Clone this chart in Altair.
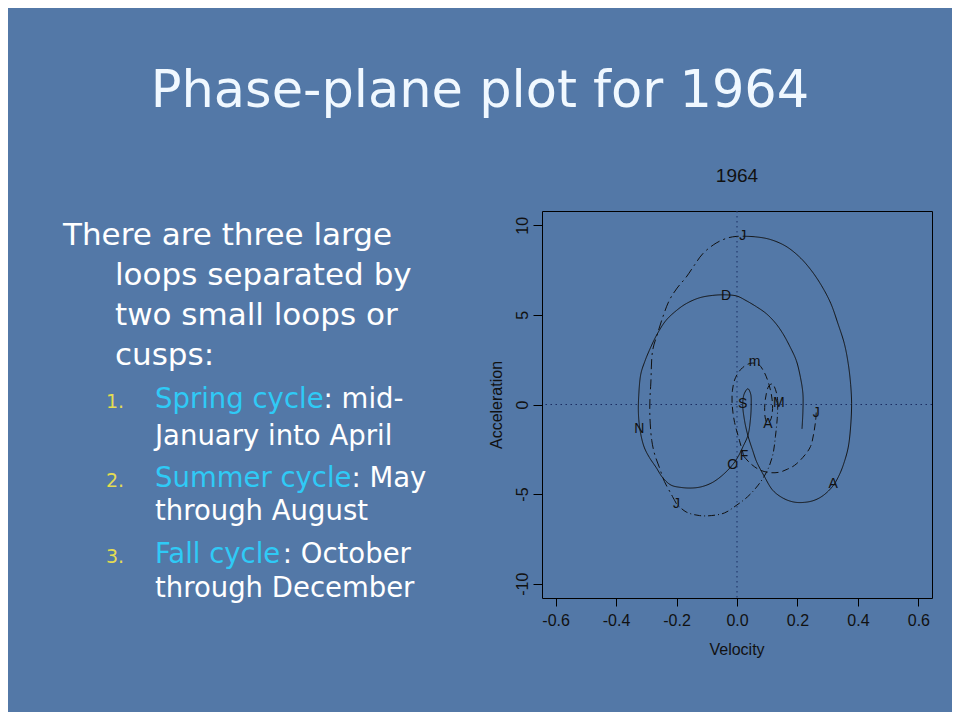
import altair as alt
import pandas as pd

# ---------------- data ----------------
seg_names = ["Jan-Feb", "Feb-May", "May-Jun", "Jun-Jul", "Jul-Dec"]

seg_velocity = [
    [0.262, 0.260, 0.255, 0.243, 0.218, 0.19, 0.168, 0.14, 0.108, 0.075, 0.045, 0.023],
    [0.023, 0.008, -0.008, -0.016, -0.015, -0.005, 0.018, 0.045, 0.07, 0.09, 0.106, 0.116,
     0.117, 0.11, 0.10, 0.093, 0.092, 0.097, 0.106, 0.117, 0.127, 0.133, 0.135],
    [0.135, 0.133, 0.127, 0.119, 0.10, 0.07, 0.035, -0.003, -0.041, -0.085, -0.124, -0.168, -0.2],
    [-0.2, -0.218, -0.24, -0.257, -0.272, -0.282, -0.288, -0.288, -0.285, -0.279, -0.263,
     -0.245, -0.224, -0.198, -0.168, -0.14, -0.113, -0.069, -0.03, -0.003, 0.019],
    [0.019, 0.06, 0.108, 0.16, 0.207, 0.245, 0.279, 0.31, 0.334, 0.355, 0.368, 0.376, 0.379,
     0.376, 0.368, 0.355, 0.34, 0.318, 0.285, 0.255, 0.224, 0.19, 0.155, 0.119, 0.09, 0.065,
     0.052, 0.036, 0.025, 0.019, 0.024, 0.036, 0.045, 0.047, 0.044, 0.036, 0.019, 0.004,
     -0.014, -0.045, -0.08, -0.115, -0.147, -0.185, -0.218, -0.245, -0.268, -0.29, -0.307,
     -0.32, -0.326, -0.325, -0.318, -0.305, -0.29, -0.265, -0.235, -0.2, -0.168, -0.125,
     -0.08, -0.036, 0.0, 0.03, 0.065, 0.097, 0.127, 0.152, 0.176, 0.196, 0.21, 0.218, 0.218,
     0.215],
]
seg_acceleration = [
    [-0.45, -0.9, -1.5, -2.35, -2.95, -3.4, -3.6, -3.78, -3.8, -3.65, -3.3, -2.9],
    [-2.9, -2.0, -1.0, 0.0, 0.8, 1.5, 2.05, 2.3, 2.25, 1.8, 1.1, 0.3,
     -0.4, -0.9, -1.05, -0.7, 0.0, 0.6, 1.05, 1.15, 0.85, 0.45, 0.1],
    [0.1, -0.8, -1.8, -2.76, -3.7, -4.5, -5.15, -5.64, -6.05, -6.2, -6.2, -6.0, -5.55],
    [-5.55, -4.99, -4.3, -3.5, -2.8, -2.0, -0.7, 0.3, 1.2, 3.02, 3.95,
     4.9, 5.81, 6.5, 7.11, 7.8, 8.42, 9.01, 9.3, 9.38, 9.39],
    [9.39, 9.36, 9.22, 8.85, 8.23, 7.5, 6.65, 5.65, 4.51, 3.4, 2.27, 1.1, 0.04,
     -1.2, -2.38, -3.2, -3.87, -4.53, -5.08, -5.35, -5.46, -5.45, -5.25, -4.8, -4.0, -3.2,
     -2.57, -1.73, -0.9, 0.0, 0.6, 0.88, 0.6, 0.0, -0.9, -1.73, -2.38, -2.9,
     -3.35, -3.9, -4.34, -4.58, -4.66, -4.63, -4.5, -4.1, -3.5, -2.95, -2.38,
     -1.5, -0.52, 0.5, 1.71, 2.4, 3.02, 3.9, 4.69, 5.25, 5.63, 5.95,
     6.09, 6.12, 6.05, 5.8, 5.45, 5.07, 4.55, 3.95, 3.2, 2.46, 1.5, 0.6, -0.4,
     -1.36],
]

month_letters = ["J", "F", "m", "A", "M", "J", "J", "A", "S", "O", "N", "D"]
month_velocity = [0.262, 0.023, 0.058, 0.102, 0.138, -0.2, 0.019, 0.318, 0.019, -0.014, -0.323, -0.036]
month_acceleration = [-0.45, -2.9, 2.36, -1.08, 0.1, -5.55, 9.39, -4.45, 0.04, -3.35, -1.36, 6.03]

x_ticks = [-0.6, -0.4, -0.2, 0.0, 0.2, 0.4, 0.6]
y_ticks = [-10, -5, 0, 5, 10]
ref_zero = [0.0]

slide_title = "Phase-plane plot for 1964"
plot_title = "1964"
x_title = "Velocity"
y_title = "Acceleration"
intro_lines = ["There are three large", "loops separated by", "two small loops or", "cusps:"]
item_numbers = ["1.", "2.", "3."]
item_heads = ["Spring cycle", "Summer cycle", "Fall cycle"]
item_tails = [": mid-", ": May", ": October"]
item_second = ["January into April", "through August", "through December"]

# ---------------- layout / style ----------------
OX, OY = 542, 211          # page position of the plot area's top-left corner
PW, PH = 390, 387          # plot area size
BG = "#5378a7"
WHITE = "#ffffff"
CYAN = "#2fcaf6"
YELLOW = "#e4dc52"
SLIDE_FONT = "DejaVu Sans"
R_FONT = "Liberation Sans"

x_scale = alt.Scale(domain=[-0.645, 0.645], nice=False, zero=False)
y_scale = alt.Scale(domain=[-10.8, 10.8], nice=False, zero=False)

x_axis = alt.Axis(
    values=x_ticks, title=None, grid=False, domain=False,
    labelExpr="datum.value < 0 ? '-' + format(-datum.value, '.1f') : format(datum.value, '.1f')",
    tickSize=8, tickColor="black", tickWidth=1,
    labelFont=R_FONT, labelFontSize=16, labelColor="#111111", labelPadding=6,
    labelFlush=False, labelOverlap=False,
)
y_axis = alt.Axis(
    values=y_ticks, title=None, grid=False, domain=False,
    labelExpr="datum.value < 0 ? '-' + format(-datum.value, 'd') : format(datum.value, 'd')",
    tickSize=9, tickColor="black", tickWidth=1,
    labelFont=R_FONT, labelFontSize=16, labelColor="#111111", labelPadding=6,
    labelAngle=270, labelAlign="center", labelBaseline="alphabetic",
    labelFlush=False, labelOverlap=False,
)


def X(field):
    return alt.X(field, type="quantitative", scale=x_scale, axis=x_axis)


def Y(field):
    return alt.Y(field, type="quantitative", scale=y_scale, axis=y_axis)


# curve table
rows = []
k = 0
for name, vs, accs in zip(seg_names, seg_velocity, seg_acceleration):
    for v, a in zip(vs, accs):
        rows.append({"v": v, "a": a, "seg": name, "ord": k})
        k += 1
curve_df = pd.DataFrame(rows)

months_df = pd.DataFrame({"v": month_velocity, "a": month_acceleration, "lab": month_letters})
zero_df = pd.DataFrame({"z": ref_zero})

layers = []

# dotted reference lines
layers.append(
    alt.Chart(zero_df).mark_rule(color="#1b2d62", strokeWidth=1, strokeDash=[1.5, 3.5])
    .encode(x=X("z"))
)
layers.append(
    alt.Chart(zero_df).mark_rule(color="#1b2d62", strokeWidth=1, strokeDash=[1.5, 3.5])
    .encode(y=Y("z"))
)

# the phase-plane curve
layers.append(
    alt.Chart(curve_df).mark_line(color="#111111", strokeWidth=1, interpolate="catmull-rom")
    .encode(
        x=X("v"), y=Y("a"),
        detail="seg:N",
        order=alt.Order("ord:Q"),
        strokeDash=alt.StrokeDash(
            "seg:N",
            scale=alt.Scale(domain=seg_names,
                            range=[[7, 4], [7, 4], [7, 3, 1, 3], [10, 4, 2, 4], [1, 0]]),
            legend=None,
        ),
    )
)

# month letters
layers.append(
    alt.Chart(months_df).mark_text(font=R_FONT, fontSize=14, color="#111111",
                                   align="center", baseline="middle")
    .encode(x=X("v"), y=Y("a"), text="lab:N")
)


def text_layer(s, px, py, size, color, font=SLIDE_FONT, align="left",
               baseline="alphabetic", angle=0):
    return [
        alt.Chart(pd.DataFrame({"t": [s]})).mark_text(
            font=font, fontSize=size, color=color,
            align=align, baseline=baseline, angle=angle)
        .encode(x=alt.value(px - OX), y=alt.value(py - OY), text="t:N")
    ]


# plot texts (R style)
layers += text_layer(plot_title, 737, 182, 19, "#111111", font=R_FONT, align="center")
layers += text_layer(x_title, 737, 655, 16, "#111111", font=R_FONT, align="center")
layers += text_layer(y_title, 502, 405, 16, "#111111", font=R_FONT, align="center", angle=270)

# slide title
layers += text_layer(slide_title, 480, 107, 51, "#f0f8ff", align="center")

# intro paragraph
intro_pos = [(63, 245), (115, 285), (115, 325), (115, 365)]
for s, (px, py) in zip(intro_lines, intro_pos):
    layers += text_layer(s, px, py, 31, WHITE)

# numbered items
item_base = [408, 487, 563]
second_base = [445, 520, 597]
head_end = [323.6, 351.5, 282.8]
for i in range(3):
    layers += text_layer(item_numbers[i], 106, item_base[i], 19, YELLOW)
    layers += text_layer(item_heads[i], 155, item_base[i], 27.5, CYAN)
    layers += text_layer(item_tails[i], head_end[i], item_base[i], 27.5, WHITE)
    layers += text_layer(item_second[i], 155, second_base[i], 27.5, WHITE)

chart = (
    alt.layer(*layers)
    .properties(
        width=PW, height=PH,
        padding={"left": OX - 8, "top": OY - 8, "right": 944 - (OX - 8) - PW,
                 "bottom": 704 - (OY - 8) - PH},
        autosize=alt.AutoSizeParams(type="none"),
    )
    .configure(background=BG)
    .configure_view(stroke="black", strokeWidth=1)
)

chart.save("out.html", embed_options={"renderer": "svg", "actions": False})
